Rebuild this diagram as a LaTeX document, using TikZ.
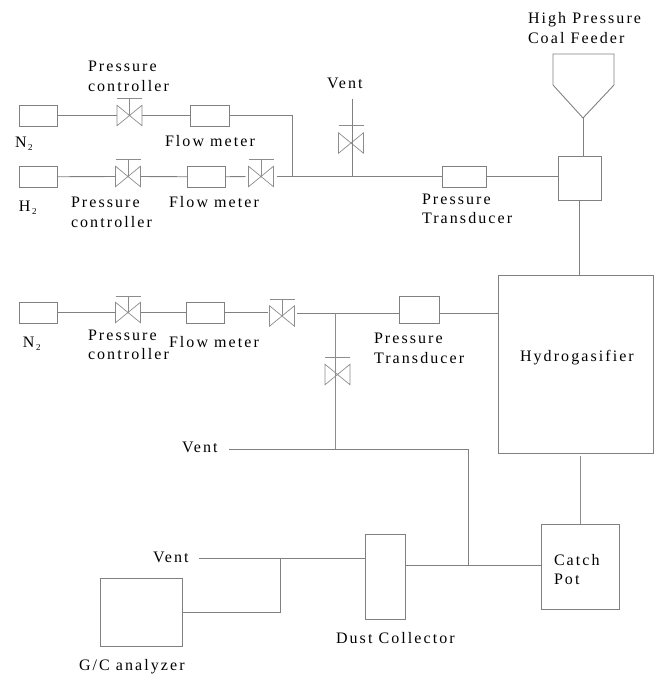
\documentclass[tikz,border=0pt]{standalone}
\usepackage{fontspec}
\setmainfont[LetterSpace=13]{Liberation Serif}
\newcommand{\subtwo}{\raisebox{-3pt}{\fontsize{9}{9}\selectfont\,2}}
\tikzset{
  pipe/.style={draw=black!50,line width=0.9pt,line join=miter},
  thinpipe/.style={draw=black!45,line width=0.7pt},
  boxnode/.style={pipe,fill=white,rectangle,inner sep=0pt,outer sep=0pt},
  valvenode/.style={rectangle,inner sep=0pt,outer sep=0pt,minimum width=25pt,minimum height=20.5pt},
  lab/.style={inner sep=0pt,outer sep=0pt,anchor=base west,text=black,font=\fontsize{16}{16}\selectfont},
}
% name, left, top, right, bottom
\newcommand{\pbox}[5]{\node[boxnode,minimum width=#4pt-#2pt,minimum height=#5pt-#3pt] (#1) at ({(#2+#4)/2},{(#3+#5)/2}) {};}
% name, cx, cy, bar y
\newcommand{\valve}[4]{%
  \node[valvenode] (#1) at (#2,#3) {};
  \draw[thinpipe] (#1.south west) -- (#1.north east) -- (#1.south east) -- (#1.north west) -- cycle;
  \draw[thinpipe] ([xshift=-12.5pt]#2,#4) -- ([xshift=12.5pt]#2,#4);
}
\begin{document}
\begin{tikzpicture}[x=1pt,y=-1pt]
\useasboundingbox (0,0) rectangle (660,675);
% boxes
\pbox{nA}{19}{105}{57}{126}
\pbox{fA}{190}{105}{229}{126}
\pbox{hB}{19}{166.5}{57}{187}
\pbox{fB}{187}{166.5}{225}{187}
\pbox{ptA}{442}{166}{486}{187}
\pbox{mix}{558}{156}{601}{200}
\pbox{nC}{19}{302}{57}{323}
\pbox{fC}{186}{302}{224}{323}
\pbox{ptC}{399}{296}{439}{323}
\pbox{hyd}{498}{275}{653}{453}
\pbox{cat}{541}{524}{619}{609}
\pbox{dust}{365}{534}{405}{619}
\pbox{gc}{100}{578}{182}{646}
% valves
\valve{vA}{129.5}{115.5}{98}
\valve{vB}{128}{176.5}{159}
\valve{vD}{261}{176.5}{159}
\valve{vE}{351}{143}{125}
\valve{vF}{128}{312.5}{296}
\valve{vG}{282}{316}{299}
\valve{vH}{337.5}{374.5}{357}
% junctions and free ends
\coordinate (jTop) at (292,176.5);
\coordinate (jVent) at (352,176.5);
\coordinate (ventTop) at (352,99);
\coordinate (jC) at (335,313);
\coordinate (ventC) at (229,449);
\coordinate (cornerC) at (335,449);
\coordinate (cornerD) at (468,449);
\coordinate (jD) at (468,565);
\coordinate (ventG) at (199,558);
\coordinate (jG) at (280,558);
\coordinate (cornerG) at (280,612);
\coordinate (apex) at (583,118);
\coordinate (hydGap) at (580,456);
% hopper
\draw[pipe] (553,54) -- (614,54) -- (614,85) -- (apex) -- (553,85) -- cycle;
\draw[pipe] (apex) -- (apex |- mix.north);
% valve stems
\draw[thinpipe] (vA.center) -- (vA.center |- 0,98);
\draw[thinpipe] (vB.center) -- (vB.center |- 0,159);
\draw[thinpipe] (vD.center) -- (vD.center |- 0,159);
\draw[thinpipe] (vF.center) -- (vF.center |- 0,296);
\draw[thinpipe] (vG.center) -- (vG.center |- 0,299);
% row 1
\draw[pipe] (nA.east) -- (vA.west);
\draw[pipe] (vA.east) -- (fA.west);
\draw[pipe] (fA.east) -| (jTop);
% row 2
\draw[pipe] (hB.east) -- (vB.west);
\draw[pipe] (vB.east) -- (fB.west);
\draw[pipe,shorten >=3pt] (fB.east) -- (vD.west);
\draw[pipe,shorten <=3pt] (vD.east) -- (jTop);
\draw[pipe] (jTop) -- (jVent);
\draw[pipe] (jVent) -- (ptA.west);
\draw[pipe] (jVent) -- (ventTop);
\draw[pipe] (ptA.east) -- (ptA.east -| mix.west);
\draw[pipe] (mix.south) -- (mix.south |- hyd.north);
% row 3
\draw[pipe] (nC.east) -- (nC.east -| vF.west);
\draw[pipe] (fC.west -| vF.east) -- (fC.west);
\draw[pipe,shorten >=2pt] (fC.east) -- (fC.east -| vG.west);
\draw[pipe,shorten <=2pt] (jC -| vG.east) -- (jC);
\draw[pipe] (jC) -- (jC -| ptC.west);
\draw[pipe] (jC -| ptC.east) -- (jC -| hyd.west);
\draw[thinpipe] (jC) -- (cornerC);
% vent and lower lines
\draw[pipe] (ventC) -- (cornerD) -- (jD);
\draw[pipe] (jD -| dust.east) -- (jD);
\draw[pipe] (jD) -- (jD -| cat.west);
\draw[thinpipe] (hydGap) -- (hydGap |- cat.north);
\draw[pipe] (ventG) -- (jG);
\draw[pipe] (jG) -- (jG -| dust.west);
\draw[pipe] (jG) -- (cornerG) -- (cornerG -| gc.east);
% labels
\node[lab] (t1) at (88,71) {Pressure};
\node[lab] (t2) at (88,91) {controller};
\node[lab] (t3) at (15,147) {N\subtwo};
\node[lab] (t4) at (165,146) {Flow meter};
\node[lab] (t5) at (19,211) {H\subtwo};
\node[lab] (t6) at (71,207) {Pressure};
\node[lab] (t7) at (71,227) {controller};
\node[lab] (t8) at (169,207) {Flow meter};
\node[lab] (t9) at (327,88) {Vent};
\node[lab] (t10) at (528,23) {High Pressure};
\node[lab] (t11) at (528,43) {Coal Feeder};
\node[lab] (t12) at (422,204) {Pressure};
\node[lab] (t13) at (422,223) {Transducer};
\node[lab] (t14) at (23,347) {N\subtwo};
\node[lab] (t15) at (88,340) {Pressure};
\node[lab] (t16) at (88,359) {controller};
\node[lab] (t17) at (169,347) {Flow meter};
\node[lab] (t18) at (182,452) {Vent};
\node[lab] (t19) at (374,343) {Pressure};
\node[lab] (t20) at (374,363) {Transducer};
\node[lab] (t21) at (520,361) {Hydrogasifier};
\node[lab] (t22) at (554,565) {Catch};
\node[lab] (t23) at (554,584) {Pot};
\node[lab] (t24) at (153,562) {Vent};
\node[lab] (t25) at (336,643) {Dust Collector};
\node[lab] (t26) at (79,670) {G/C analyzer};
\end{tikzpicture}
\end{document}
